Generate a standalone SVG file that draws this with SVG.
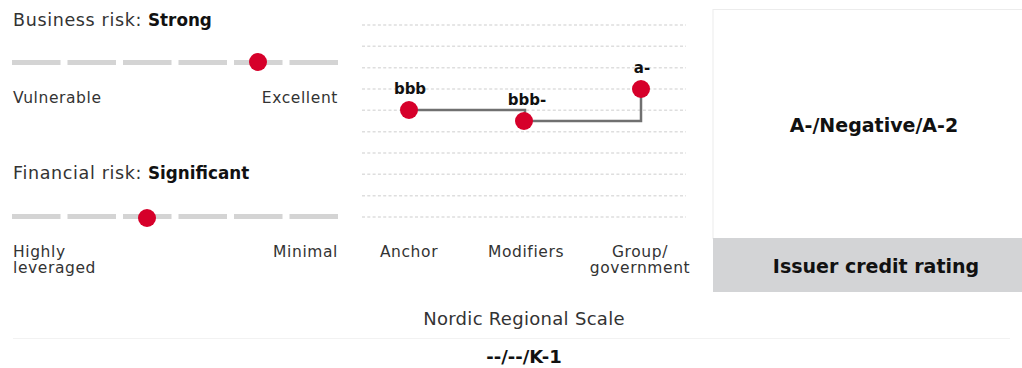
<svg xmlns="http://www.w3.org/2000/svg" width="1022" height="368" viewBox="0 0 1022 368">
<style>
text{font-family:"DejaVu Sans","Liberation Sans",sans-serif;fill:#333}
.h{font-size:17.5px;letter-spacing:0.65px}
.b{font-weight:bold;fill:#111;letter-spacing:0}
.hb{font-size:16.8px}
.lbl{font-size:15.5px;letter-spacing:0.6px}
.bar{stroke:#d4d4d4;stroke-width:5;stroke-dasharray:48.5 7;fill:none}
.grid{stroke:#dedede;stroke-width:1.5;stroke-dasharray:3 2.3;fill:none}
.dot{fill:#d6002a}
.conn{stroke:#707070;stroke-width:2.5;fill:none}
.val{font-size:15px;font-weight:bold;fill:#111;text-anchor:middle}
</style>
<rect width="1022" height="368" fill="#fff"/>
<g id="business-risk">
<text class="h" x="13" y="26">Business risk: <tspan class="b hb" x="148">Strong</tspan></text>
<line class="bar" x1="12" y1="62.5" x2="338" y2="62.5"/>
<circle class="dot" cx="258" cy="62" r="9"/>
<text class="lbl" x="13" y="103">Vulnerable</text>
<text class="lbl" x="338" y="103" text-anchor="end">Excellent</text>
</g>
<g id="financial-risk">
<text class="h" x="13" y="179">Financial risk: <tspan class="b hb" x="148">Significant</tspan></text>
<line class="bar" x1="12" y1="216.5" x2="338" y2="216.5"/>
<circle class="dot" cx="147" cy="218" r="9"/>
<text class="lbl" x="13" y="257">Highly</text>
<text class="lbl" x="13" y="273">leveraged</text>
<text class="lbl" x="338" y="257" text-anchor="end">Minimal</text>
</g>
<g id="grid">
<line class="grid" x1="362" y1="25" x2="686" y2="25"/>
<line class="grid" x1="362" y1="46.3" x2="686" y2="46.3"/>
<line class="grid" x1="362" y1="67.7" x2="686" y2="67.7"/>
<line class="grid" x1="362" y1="89" x2="686" y2="89"/>
<line class="grid" x1="362" y1="110.3" x2="686" y2="110.3"/>
<line class="grid" x1="362" y1="131.7" x2="686" y2="131.7"/>
<line class="grid" x1="362" y1="153" x2="686" y2="153"/>
<line class="grid" x1="362" y1="174.3" x2="686" y2="174.3"/>
<line class="grid" x1="362" y1="195.7" x2="686" y2="195.7"/>
<line class="grid" x1="362" y1="217" x2="686" y2="217"/>
</g>
<g id="connectors">
<path class="conn" d="M409 110 H525 V121 H641 V89"/>
</g>
<g id="anchor">
<circle class="dot" cx="409" cy="110" r="9"/>
<text class="val" x="410" y="94">bbb</text>
<text class="lbl" x="409" y="257" text-anchor="middle">Anchor</text>
</g>
<g id="modifiers">
<circle class="dot" cx="524" cy="121" r="9"/>
<text class="val" x="527" y="105">bbb-</text>
<text class="lbl" x="526" y="257" text-anchor="middle">Modifiers</text>
</g>
<g id="group-government">
<circle class="dot" cx="641" cy="89" r="9"/>
<text class="val" x="642" y="73">a-</text>
<text class="lbl" x="640" y="257" text-anchor="middle">Group/</text>
<text class="lbl" x="640" y="273" text-anchor="middle">government</text>
</g>
<g id="issuer-credit-rating">
<rect x="713" y="9.5" width="320" height="229" fill="#fff" stroke="#ececec"/>
<rect x="713" y="238" width="320" height="54" fill="#d3d4d6"/>
<text class="b" x="874" y="132" font-size="19" letter-spacing="0.5" text-anchor="middle">A-/Negative/A-2</text>
<text class="b" x="876" y="273" font-size="19" text-anchor="middle">Issuer credit rating</text>
</g>
<g id="nordic-scale">
<text x="524" y="325" font-size="18" letter-spacing="0.3" text-anchor="middle">Nordic Regional Scale</text>
<line x1="13" y1="338.5" x2="1010" y2="338.5" stroke="#f2f2f2" stroke-width="1"/>
<text class="b" x="524" y="363" font-size="18" letter-spacing="1.4" text-anchor="middle">--/--/K-1</text>
</g>
</svg>
